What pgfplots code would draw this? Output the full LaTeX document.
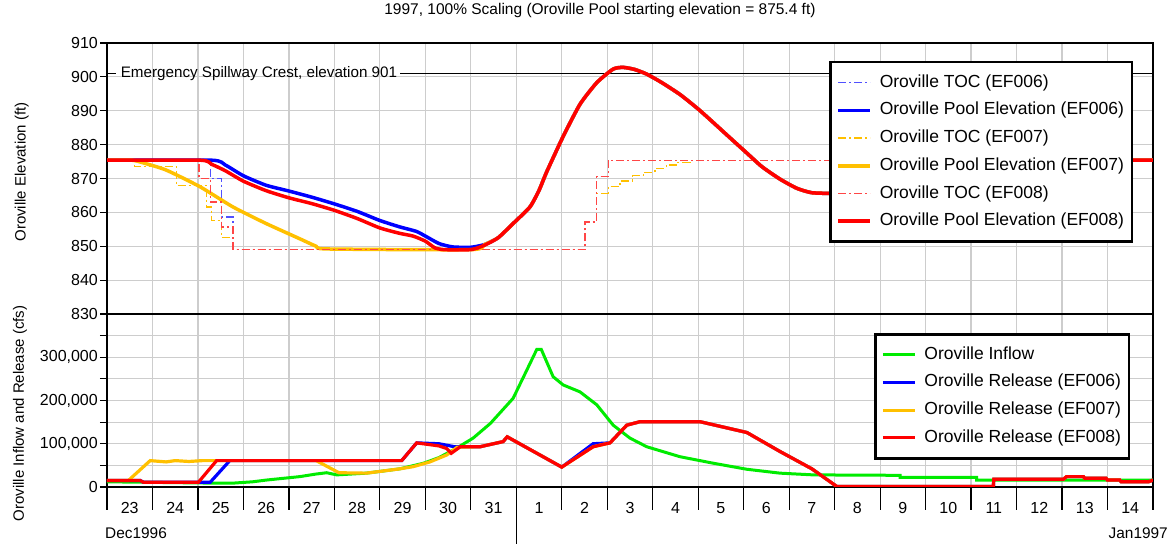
\documentclass[border=0pt]{standalone}
\usepackage{fontspec}
\setmainfont{Liberation Sans}
\usepackage{pgfplots}
\pgfplotsset{compat=1.18}

\definecolor{cblue}{RGB}{0,0,255}
\definecolor{ctocblue}{RGB}{80,80,255}
\definecolor{cyel}{RGB}{255,192,0}
\definecolor{cred}{RGB}{255,0,0}
\definecolor{ctocred}{RGB}{255,70,70}
\definecolor{cgreen}{RGB}{0,235,0}
\definecolor{cgrid}{RGB}{205,205,205}

\pgfplotsset{
  panel/.style={
    scale only axis, width=1046pt, xmin=0, xmax=23,
    axis line style={line width=2pt},
    grid style={cgrid, line width=1.2pt},
    tick style={black, line width=1.2pt},
    tick align=outside, ytick pos=left,
    major tick length=7pt,
    scaled y ticks=false,
    /pgf/number format/assume math mode=true,
    ticklabel style={font=\fontsize{16}{18}\selectfont},
    yticklabel style={inner sep=2pt},
    label style={font=\fontsize{15}{17}\selectfont},
    legend cell align=left,
    legend image code/.code={\draw[##1] (0pt,0pt) -- (32pt,0pt);},
    legend style={anchor=north west, draw=black, line width=2.5pt, fill=white,
      font=\fontsize{17.5}{20}\selectfont,
      inner xsep=6pt, inner ysep=10pt, row sep=6.7pt,
      nodes={inner sep=2pt, text height=13pt, text depth=4pt, line width=1pt},
      /tikz/every odd column/.append style={column sep=6pt}},
  },
  toc/.style={line width=1.3pt, dash pattern=on 8pt off 3pt on 2pt off 3pt},
  pool/.style={line width=3.5pt, smooth, tension=0.35},
  rel/.style={line width=3.2pt},
}

\begin{document}
\begin{tikzpicture}
\path[use as bounding box] (0,0) rectangle (1171pt,544pt);

% upper panel: elevation
\begin{axis}[panel,
  at={(107pt,230pt)}, anchor=south west, height=271pt,
  ymin=830, ymax=910, ytick={830,840,...,910},
  xtick={0,...,23}, xticklabels={}, major x tick style={draw=none},
  xmajorgrids, ymajorgrids,
  ylabel={Oroville Elevation (ft)},
  ylabel style={at={(axis description cs:-0.0816,0.524)}, anchor=center},
  title={1997, 100\% Scaling (Oroville Pool starting elevation = 875.4 ft)},
  title style={at={(axis description cs:0.4713,1.096)}, anchor=center,
    font=\fontsize{15.5}{18}\selectfont},
  legend style={at={(0.6903,0.9336)}},
]
\addplot[black, line width=1.3pt, forget plot] coordinates {(0,901)(0.2,901)};
\addplot[black, line width=1.3pt, forget plot] coordinates {(6.45,901)(23,901)};
\node[anchor=west, inner sep=0pt, font=\fontsize{15.2}{17}\selectfont]
  at (axis cs:0.3,901) {Emergency Spillway Crest, elevation 901};

% EF006 TOC
\addplot[ctocblue, toc] coordinates {
(0,875.4)(2.27,875.4)(2.27,870)(2.52,870)(2.52,858.6)(2.77,858.6)(2.77,849)
(10.51,849)(10.51,857.2)(10.77,857.2)(10.77,870.5)(11.02,870.5)(11.02,875.4)(23,875.4)};
\addlegendentry{Oroville TOC (EF006)}
% EF006 pool
\addplot[cblue, pool] coordinates {
(0,875.4)(2.3,875.4)(2.6,874.0)(3.0,870.8)(3.5,868.0)(4.0,866.3)(4.5,864.5)
(5.0,862.5)(5.5,860.3)(6.0,857.6)(6.44,855.7)(6.8,854.4)(7.0,853.0)(7.3,850.8)
(7.6,849.8)(8.0,849.7)(8.3,850.5)(8.6,852.5)(8.93,856.7)(9.3,861.6)(9.5,866.5)
(9.67,872.0)(10.03,882.4)(10.4,891.9)(10.77,898.3)(11.13,902.3)(11.35,902.8)
(11.6,902.2)(11.87,900.8)(12.2,898.3)(12.6,894.8)(13.0,890.5)(13.3,886.9)
(13.7,882.0)(14.07,877.5)(14.4,873.5)(14.8,869.8)(15.17,867.1)(15.5,865.8)
(16.0,865.6)(16.5,866.0)(17.5,868.5)(18.5,871.5)(19.5,874.0)(20.2,875.4)(23,875.4)};
\addlegendentry{Oroville Pool Elevation (EF006)}
% EF007 TOC
\addplot[cyel, toc] coordinates {
(0,875.4)(0.6,875.4)(0.6,873.5)(1.53,873.5)(1.53,867.9)(2.19,867.9)(2.19,861.6)
(2.30,861.6)(2.30,857.6)(2.52,857.6)(2.52,852.6)(2.78,852.6)(2.78,849)
(10.51,849)(10.51,857.2)(10.77,857.2)(10.77,865.6)(11.02,865.6)(11.02,867.6)
(11.28,867.6)(11.28,869.3)(11.55,869.3)(11.55,870.8)(11.79,870.8)(11.79,871.8)
(12.05,871.8)(12.05,873.0)(12.3,873.0)(12.3,874.0)(12.55,874.0)(12.55,874.8)
(12.82,874.8)(12.82,875.4)(23,875.4)};
\addlegendentry{Oroville TOC (EF007)}
% EF007 pool
\addplot[cyel, pool] coordinates {
(0,875.4)(0.55,875.4)(0.8,874.6)(1.3,872.5)(2.04,867.6)(2.77,861.6)(3.5,856.7)
(4.24,852.2)(4.6,850.0)(4.85,849.2)(8.0,849.0)(8.3,850.5)(8.6,852.5)(8.93,856.7)
(9.3,861.6)(9.5,866.5)(9.67,872.0)(10.03,882.4)(10.4,891.9)(10.77,898.3)
(11.13,902.3)(11.35,902.8)(11.6,902.2)(11.87,900.8)(12.2,898.3)(12.6,894.8)
(13.0,890.5)(13.3,886.9)(13.7,882.0)(14.07,877.5)(14.4,873.5)(14.8,869.8)
(15.17,867.1)(15.5,865.8)(16.0,865.6)(16.5,866.0)(17.5,868.5)(18.5,871.5)
(19.5,874.0)(20.2,875.4)(23,875.4)};
\addlegendentry{Oroville Pool Elevation (EF007)}
% EF008 TOC
\addplot[ctocred, toc] coordinates {
(0,875.4)(2.02,875.4)(2.02,870)(2.27,870)(2.27,863.1)(2.52,863.1)(2.52,855.7)
(2.77,855.7)(2.77,849)(10.51,849)(10.51,857.2)(10.77,857.2)(10.77,870.5)
(11.02,870.5)(11.02,875.4)(23,875.4)};
\addlegendentry{Oroville TOC (EF008)}
% EF008 pool
\addplot[cred, pool] coordinates {
(0,875.4)(2.05,875.4)(2.3,874.2)(2.6,872.3)(3.0,869.2)(3.5,866.4)(4.0,864.3)
(4.5,862.6)(5.0,860.6)(5.5,858.2)(6.0,855.4)(6.44,853.8)(6.73,853.0)(7.0,851.5)
(7.2,849.6)(7.4,849.0)(8.0,849.0)(8.3,850.3)(8.6,852.5)(8.93,856.7)(9.3,861.6)
(9.5,866.5)(9.67,872.0)(10.03,882.4)(10.4,891.9)(10.77,898.3)(11.13,902.3)
(11.35,902.8)(11.6,902.2)(11.87,900.8)(12.2,898.3)(12.6,894.8)(13.0,890.5)
(13.3,886.9)(13.7,882.0)(14.07,877.5)(14.4,873.5)(14.8,869.8)(15.17,867.1)
(15.5,865.8)(16.0,865.6)(16.5,866.0)(17.5,868.5)(18.5,871.5)(19.5,874.0)
(20.2,875.4)(23,875.4)};
\addlegendentry{Oroville Pool Elevation (EF008)}
\end{axis}

% lower panel: flows
\begin{axis}[panel,
  at={(107pt,57pt)}, anchor=south west, height=173pt,
  ymin=0, ymax=400000,
  ytick={0,50000,...,350000},
  yticklabels={0,{},{100,000},{},{200,000},{},{300,000},{}},
  xtick={0.5,1.5,...,22.5},
  xticklabels={23,24,25,26,27,28,29,30,31,1,2,3,4,5,6,7,8,9,10,11,12,13,14},
  major x tick style={draw=none},
  minor xtick={0,...,23}, minor tick length=23pt, xtick pos=bottom,
  xticklabel style={yshift=-5pt},
  xminorgrids, ymajorgrids,
  minor grid style={cgrid, line width=1.2pt},
  ylabel={Oroville Inflow and Release (cfs)},
  ylabel style={at={(axis description cs:-0.0832,0.425)}, anchor=center},
  legend style={at={(0.7333,0.890)}},
]
\addplot[cgreen, line width=3pt] coordinates {
(0,12000)(2.3,9000)(2.78,9000)(3.2,12000)(3.5,16000)(4.24,24000)(4.6,30000)
(4.83,33000)(5.05,28000)(5.7,32000)(6.0,36000)(6.44,42000)(6.96,55000)
(7.3,68000)(7.69,90000)(8.05,113000)(8.43,147000)(8.93,205000)(9.23,270000)
(9.45,318000)(9.55,318000)(9.81,255000)(10.03,236000)(10.4,220000)
(10.77,190000)(11.13,143000)(11.5,113000)(11.87,93000)(12.6,70000)
(13.33,55000)(14.07,41000)(14.8,32000)(15.53,28000)(17.44,27000)(17.44,22000)
(19.12,22000)(19.12,16000)(23,16000)};
\addlegendentry{Oroville Inflow}
\addplot[cblue, rel] coordinates {
(0,15000)(0.73,15000)(0.8,11000)(2.27,11000)(2.7,61000)(6.48,61000)
(6.81,102000)(7.3,100000)(7.65,93000)(8.2,93000)(8.71,105000)(8.8,116000)
(10.0,46000)(10.69,100000)(11.06,102000)(11.43,143000)(11.72,151000)
(13.04,151000)(14.07,126000)(14.8,82000)(15.5,42000)(16.05,1000)(19.49,1000)
(19.5,18000)(21.03,18000)(21.1,24000)(21.47,24000)(21.5,20000)(21.97,20000)
(22.0,16000)(22.27,16000)(22.3,12000)(22.9,12000)(23,16000)};
\addlegendentry{Oroville Release (EF006)}
\addplot[cyel, rel] coordinates {
(0,15000)(0.47,15000)(0.95,61000)(1.3,58000)(1.5,61000)(1.8,59000)(2.1,61000)
(4.6,61000)(5.1,33000)(5.7,32000)(6.0,36000)(6.44,42000)(6.73,47000)
(7.1,58000)(7.47,74000)(7.7,92000)(8.2,93000)(8.71,105000)(8.8,116000)
(10.0,46000)(10.69,93000)(11.06,102000)(11.43,143000)(11.72,151000)
(13.04,151000)(14.07,126000)(14.8,82000)(15.5,42000)(16.05,1000)(19.49,1000)
(19.5,18000)(21.03,18000)(21.1,24000)(21.47,24000)(21.5,20000)(21.97,20000)
(22.0,16000)(22.27,16000)(22.3,12000)(22.9,12000)(23,16000)};
\addlegendentry{Oroville Release (EF007)}
\addplot[cred, rel] coordinates {
(0,15000)(0.73,15000)(0.8,11000)(2.01,11000)(2.41,61000)(6.48,61000)
(6.81,102000)(7.3,95000)(7.47,89000)(7.57,78000)(7.77,93000)(8.2,93000)
(8.71,105000)(8.8,116000)(10.0,46000)(10.69,93000)(11.06,102000)
(11.43,143000)(11.72,151000)(13.04,151000)(14.07,126000)(14.8,82000)
(15.5,42000)(16.05,1000)(19.49,1000)(19.5,18000)(21.03,18000)(21.1,24000)
(21.47,24000)(21.5,20000)(21.97,20000)(22.0,16000)(22.27,16000)(22.3,12000)
(22.9,12000)(23,16000)};
\addlegendentry{Oroville Release (EF008)}
\end{axis}
\draw[line width=1.2pt] (516.3pt,57pt) -- (516.3pt,0pt);
\node[anchor=west, inner sep=0pt, font=\fontsize{15.4}{17}\selectfont]
  at (105pt,11pt) {Dec1996};
\node[anchor=east, inner sep=0pt, font=\fontsize{15.4}{17}\selectfont]
  at (1168pt,11pt) {Jan1997};
\end{tikzpicture}
\end{document}
